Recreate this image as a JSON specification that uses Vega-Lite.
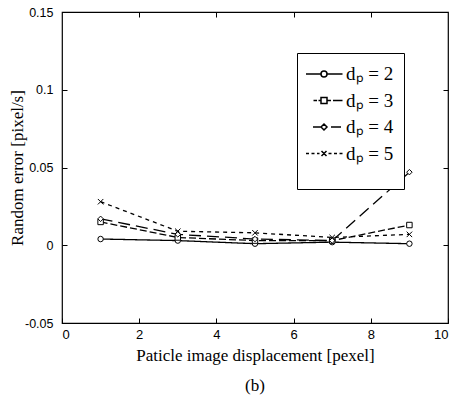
{
  "$schema": "https://vega.github.io/schema/vega-lite/v6.json",
  "width": 386,
  "height": 311,
  "autosize": "none",
  "padding": {"left": 62, "top": 12, "right": 7, "bottom": 74},
  "background": "white",
  "config": {"view": {"stroke": "black", "strokeWidth": 1.2}},
  "title": {"text": "(b)", "orient": "bottom", "font": "Liberation Serif", "fontSize": 17, "fontWeight": "normal", "offset": 15, "color": "black"},
  "data": {"values": [
    {"x": 1, "y": 0.004, "s": "dₚ = 2"},
    {"x": 3, "y": 0.003, "s": "dₚ = 2"},
    {"x": 5, "y": 0.001, "s": "dₚ = 2"},
    {"x": 7, "y": 0.002, "s": "dₚ = 2"},
    {"x": 9, "y": 0.001, "s": "dₚ = 2"},
    {"x": 1, "y": 0.015, "s": "dₚ = 3"},
    {"x": 3, "y": 0.005, "s": "dₚ = 3"},
    {"x": 5, "y": 0.003, "s": "dₚ = 3"},
    {"x": 7, "y": 0.003, "s": "dₚ = 3"},
    {"x": 9, "y": 0.013, "s": "dₚ = 3"},
    {"x": 1, "y": 0.017, "s": "dₚ = 4"},
    {"x": 3, "y": 0.007, "s": "dₚ = 4"},
    {"x": 5, "y": 0.004, "s": "dₚ = 4"},
    {"x": 7, "y": 0.003, "s": "dₚ = 4"},
    {"x": 9, "y": 0.047, "s": "dₚ = 4"},
    {"x": 1, "y": 0.028, "s": "dₚ = 5"},
    {"x": 3, "y": 0.009, "s": "dₚ = 5"},
    {"x": 5, "y": 0.008, "s": "dₚ = 5"},
    {"x": 7, "y": 0.005, "s": "dₚ = 5"},
    {"x": 9, "y": 0.007, "s": "dₚ = 5"}
  ]},
  "resolve": {"axis": {"x": "independent", "y": "independent"}, "legend": {"shape": "independent", "strokeDash": "independent"}, "scale": {"shape": "independent", "strokeDash": "independent"}},
  "layer": [
    {"mark": {"type": "line", "color": "black", "strokeWidth": 1.3},
      "encoding": {
        "x": {"field": "x", "type": "quantitative", "scale": {"domain": [0, 10], "nice": false},
          "axis": {"values": [0, 2, 4, 6, 8, 10], "grid": false, "tickSize": -5, "tickColor": "black", "domain": false,
            "labelFont": "Liberation Sans", "labelFontSize": 13, "labelColor": "black", "labelPadding": 10,
            "title": "Paticle image displacement [pexel]", "titleFont": "Liberation Serif", "titleFontSize": 17, "titleFontWeight": "normal", "titleColor": "black", "titlePadding": 6}},
        "y": {"field": "y", "type": "quantitative", "scale": {"domain": [-0.05, 0.15], "nice": false},
          "axis": {"values": [-0.05, 0, 0.05, 0.1, 0.15], "grid": false, "tickSize": -5, "tickColor": "black", "domain": false,
            "labelExpr": "replace(format(datum.value, '.2~f'), '−', '-')",
            "labelFont": "Liberation Sans", "labelFontSize": 12.5, "labelColor": "black", "labelPadding": 14,
            "title": "Random error [pixel/s]", "titleFont": "Liberation Serif", "titleFontSize": 17, "titleFontWeight": "normal", "titleColor": "black", "titlePadding": -2}},
        "strokeDash": {"field": "s", "type": "nominal",
          "scale": {"domain": ["dₚ = 2", "dₚ = 3", "dₚ = 4", "dₚ = 5"], "range": [[1, 0], [7, 3], [12, 6], [4, 4]]},
          "legend": null}}},
    {"mark": {"type": "point", "filled": false, "color": "black", "fill": "white", "strokeWidth": 1, "size": 30, "opacity": 1},
      "encoding": {
        "x": {"field": "x", "type": "quantitative", "scale": {"domain": [0, 10], "nice": false},
          "axis": {"orient": "top", "values": [2, 4, 6, 8], "grid": false, "tickSize": -5, "tickColor": "black", "domain": false, "labels": false, "title": null}},
        "y": {"field": "y", "type": "quantitative", "scale": {"domain": [-0.05, 0.15], "nice": false},
          "axis": {"orient": "right", "values": [0, 0.05, 0.1], "grid": false, "tickSize": -5, "tickColor": "black", "domain": false, "labels": false, "title": null}},
        "shape": {"field": "s", "type": "nominal",
          "scale": {"domain": ["dₚ = 2", "dₚ = 3", "dₚ = 4", "dₚ = 5"], "range": ["circle", "square", "diamond", "M-1,-1L1,1M-1,1L1,-1"]},
          "legend": null}}},
    {"mark": {"type": "point", "filled": false, "color": "black", "fill": "white", "strokeWidth": 1, "size": 400, "opacity": 0},
      "encoding": {
        "x": {"field": "x", "type": "quantitative", "axis": null},
        "y": {"field": "y", "type": "quantitative", "axis": null},
        "shape": {"field": "s", "type": "nominal",
          "scale": {"domain": ["dₚ = 2", "dₚ = 3", "dₚ = 4", "dₚ = 5"], "range": [
            "M-1.2,0H0.3M0.9,0H2.45M0.3,0A0.3,0.3 0 1,1 0.9,0A0.3,0.3 0 1,1 0.3,0",
            "M-0.45,0H-0.1M0.05,0H0.3M0.3,-0.3H0.9V0.3H0.3ZM0.9,0H1.3M1.5,0H2.45",
            "M-0.5,0H0.3M0.3,0L0.6,-0.3L0.9,0L0.6,0.3ZM1.3,0H2.3",
            "M-1.2,0H-0.9M-0.65,0H-0.35M-0.1,0H0.15M0.35,-0.25L0.85,0.25M0.35,0.25L0.85,-0.25M1.05,0H1.35M1.6,0H1.9M2.15,0H2.45"]},
          "legend": {"title": " ", "titleOrient": "bottom", "titleFontSize": 10, "titlePadding": 5,
            "orient": "none", "legendX": 235, "legendY": 41, "strokeColor": "black", "fillColor": "white",
            "padding": 10, "rowPadding": 5.5, "labelFont": "Liberation Serif", "labelFontSize": 19, "labelColor": "black",
            "labelExpr": "replace(datum.label, ' = ', ' = ')",
            "symbolSize": 400, "labelOffset": 17,
            "encode": {"symbols": {"update": {
              "stroke": {"value": "black"},
              "fill": {"value": "white"},
              "strokeWidth": {"value": 1.1},
              "opacity": {"value": 1},
              "strokeOpacity": {"value": 1},
              "fillOpacity": {"value": 1}
            }}}}}}}
  ]
}
